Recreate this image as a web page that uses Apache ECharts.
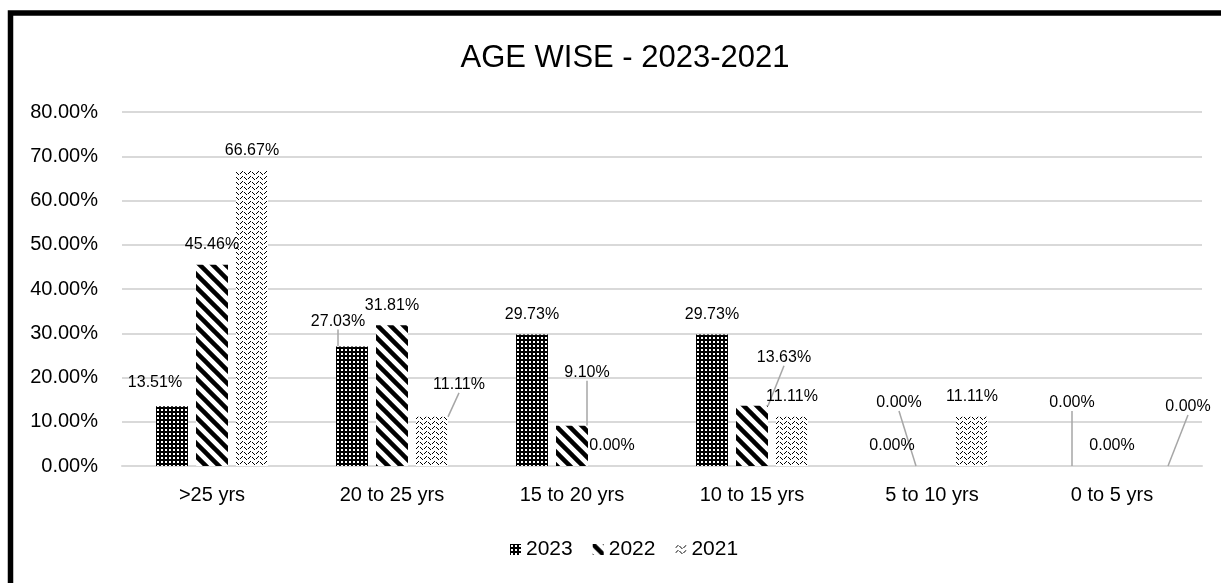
<!DOCTYPE html>
<html>
<head>
<meta charset="utf-8">
<script src="https://cdn.jsdelivr.net/npm/echarts@6/dist/echarts.min.js"></script>
<style>
html, body { margin: 0; padding: 0; background: #fff; }
#chart { width: 1221px; height: 583px; }
</style>
</head>
<body>
<div id="chart"></div>
<script>
const categories = ['>25 yrs', '20 to 25 yrs', '15 to 20 yrs', '10 to 15 yrs', '5 to 10 yrs', '0 to 5 yrs'];
const years = ['2023', '2022', '2021'];
const values2023 = [13.51, 27.03, 29.73, 29.73, 0, 0];
const values2022 = [45.46, 31.81, 9.10, 13.63, 0, 0];
const values2021 = [66.67, 11.11, 0, 11.11, 11.11, 0];

// label nudges (series-category), px, and which ones get a leader line
const labelShift = {
    '0-0': [-17, -4], '0-1': [-14, -5], '0-5': [0, -43],
    '1-2': [15, -33], '1-3': [32, -28], '1-4': [-33, -43],
    '2-1': [27, -12], '2-5': [36, -39]
};
const leaderLines = ['0-1', '0-5', '1-2', '1-3', '1-4', '2-1', '2-5'];

function tile(w, h, draw) {
    let c = document.createElement('canvas');
    c.width = w;
    c.height = h;
    let ctx = c.getContext('2d');
    draw(ctx);
    return { image: c, repeat: 'repeat' };
}

// dotted grid (2023)
const pat2023 = tile(4, 4, ctx => {
    ctx.fillStyle = '#000';
    ctx.fillRect(0, 0, 4, 4);
    ctx.fillStyle = '#fff';
    ctx.fillRect(1, 1, 2, 2);
});
// wide downward diagonal (2022)
const pat2022 = tile(13, 13, ctx => {
    ctx.fillStyle = '#fff';
    ctx.fillRect(0, 0, 13, 13);
    ctx.strokeStyle = '#000';
    ctx.lineWidth = 4.5;
    for (let k = -1; k <= 1; k++) {
        ctx.beginPath();
        ctx.moveTo(-3, -3 + k * 13);
        ctx.lineTo(16, 16 + k * 13);
        ctx.stroke();
    }
});
// wave (2021)
const pat2021 = tile(8, 5, ctx => {
    ctx.fillStyle = '#fff';
    ctx.fillRect(0, 0, 8, 5);
    ctx.fillStyle = '#000';
    let ys = [3, 2, 1, 1, 2, 3, 4, 4];
    for (let x = 0; x < 8; x++) {
        if (x % 4 != 3) ctx.fillRect(x, ys[x], 1, 1);
    }
});

const FONT = 'Liberation Sans';

function makeSeries(name, values, color, si) {
    return {
        name: name,
        type: 'bar',
        barWidth: 32,
        barGap: '25%',
        itemStyle: { color: color },
        data: values.map((v, i) => {
            let item = { value: v };
            if (leaderLines.indexOf(si + '-' + i) >= 0) {
                item.labelLine = { show: true, lineStyle: { color: '#a6a6a6', width: 1.5 } };
            }
            return item;
        }),
        label: {
            show: true,
            position: 'top',
            distance: 12,
            color: '#000',
            fontSize: 16,
            fontFamily: FONT,
            formatter: p => p.value.toFixed(2) + '%'
        },
        labelLayout: p => {
            let s = labelShift[si + '-' + p.dataIndex];
            return s ? { dx: s[0], dy: s[1] } : {};
        }
    };
}

let chart = echarts.init(document.getElementById('chart'));
let option = {
    animation: false,
    backgroundColor: '#fff',
    textStyle: { fontFamily: FONT },
    title: {
        text: 'AGE WISE - 2023-2021',
        left: 620,
        textAlign: 'center',
        top: 38,
        textStyle: { fontSize: 31, fontWeight: 'normal', color: '#000', fontFamily: FONT }
    },
    legend: {
        data: years,
        left: 505,
        top: 534,
        itemWidth: 11,
        itemHeight: 11,
        itemGap: 20,
        icon: 'rect',
        textStyle: { fontSize: 21, color: '#000', fontFamily: FONT }
    },
    grid: { left: 122, right: 19, top: 112, bottom: 117 },
    xAxis: {
        type: 'category',
        data: categories,
        axisTick: { show: false },
        axisLine: { lineStyle: { color: '#d9d9d9', width: 2 } },
        axisLabel: { fontSize: 20, color: '#000', margin: 19, fontFamily: FONT }
    },
    yAxis: {
        type: 'value',
        min: 0,
        max: 80,
        interval: 10,
        axisLine: { show: false },
        axisTick: { show: false },
        splitLine: { lineStyle: { color: '#d9d9d9', width: 2 } },
        axisLabel: {
            fontSize: 20,
            color: '#000',
            margin: 24,
            fontFamily: FONT,
            formatter: v => v.toFixed(2) + '%'
        }
    },
    graphic: [{
        type: 'rect',
        shape: { x: 10.5, y: 13, width: 1400, height: 800 },
        style: { fill: 'none', stroke: '#000', lineWidth: 5.5 },
        z: 100
    }],
    series: [
        makeSeries(years[0], values2023, pat2023, 0),
        makeSeries(years[1], values2022, pat2022, 1),
        makeSeries(years[2], values2021, pat2021, 2)
    ]
};
chart.setOption(option);
</script>
</body>
</html>
